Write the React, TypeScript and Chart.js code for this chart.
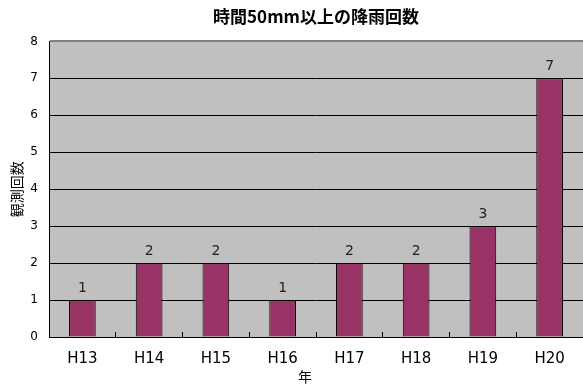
import React, { useEffect, useRef } from "react";
import { Chart, registerables } from "chart.js";

Chart.register(...registerables);

const years = ["H13", "H14", "H15", "H16", "H17", "H18", "H19", "H20"];
const counts = [1, 2, 2, 1, 2, 2, 3, 7];
const yMin = 0;
const yMax = 8;
const yStep = 1;

const chartTitle = "時間50mm以上の降雨回数";
const yTitle = "観測回数";
const xTitle = "年";

const cjkFont = "'Noto Sans CJK JP', sans-serif";
const latinFont = "'DejaVu Sans', sans-serif";

// grey plot background
const plotBackground = {
  id: "plotBackground",
  beforeDraw(chart: any) {
    const { ctx, chartArea } = chart;
    ctx.save();
    ctx.fillStyle = "#C0C0C0";
    ctx.fillRect(chartArea.left, chartArea.top, chartArea.right - chartArea.left, chartArea.bottom - chartArea.top);
    ctx.restore();
  },
};

// value labels above each bar, plus the x axis title
const annotations = {
  id: "annotations",
  afterDatasetsDraw(chart: any) {
    const { ctx } = chart;
    const meta = chart.getDatasetMeta(0);
    ctx.save();
    ctx.font = `14px ${latinFont}`;
    ctx.fillStyle = "#222";
    ctx.textAlign = "center";
    ctx.textBaseline = "bottom";
    meta.data.forEach((bar: any, i: number) => {
      ctx.fillText(String(counts[i]), bar.x, bar.y - 5);
    });
    ctx.font = `14px ${cjkFont}`;
    ctx.fillStyle = "#000";
    ctx.textBaseline = "middle";
    ctx.fillText(xTitle, 305, 377);
    ctx.restore();
  },
};

export default function App() {
  const ref = useRef<HTMLCanvasElement>(null);

  useEffect(() => {
    if (!ref.current) return;
    const chart = new Chart(ref.current, {
      type: "bar",
      data: {
        labels: years,
        datasets: [
          {
            data: counts,
            backgroundColor: "#993366",
            borderColor: "#000000",
            borderWidth: 1,
            categoryPercentage: 1,
            barPercentage: 0.4,
          },
        ],
      },
      options: {
        responsive: false,
        animation: false,
        layout: { padding: 0 },
        plugins: {
          legend: { display: false },
          tooltip: { enabled: false },
          title: {
            display: true,
            text: chartTitle,
            fullSize: false,
            color: "#000",
            font: { family: cjkFont, size: 17, weight: "bold" },
            padding: { top: 6, bottom: 15 },
          },
        },
        scales: {
          x: {
            afterFit: (s: any) => {
              s.height = 48;
            },
            grid: {
              display: true,
              drawOnChartArea: false,
              drawTicks: true,
              tickLength: -5,
              color: "#000",
              offset: true,
            },
            border: { display: true, color: "#000", width: 1 },
            ticks: {
              color: "#000",
              font: { family: latinFont, size: 15 },
              padding: 18,
              maxRotation: 0,
            },
          },
          y: {
            min: yMin,
            max: yMax,
            afterFit: (s: any) => {
              s.width = 49;
            },
            grid: {
              drawTicks: false,
              color: (c: any) => (c.tick && c.tick.value === yMax ? "#808080" : "#000"),
              lineWidth: (c: any) => (c.tick && c.tick.value === yMax ? 2 : 1),
            },
            border: { display: true, color: "#000", width: 1 },
            ticks: {
              stepSize: yStep,
              color: "#000",
              font: { family: latinFont, size: 12 },
              padding: 11,
            },
            title: {
              display: true,
              text: yTitle,
              color: "#000",
              font: { family: cjkFont, size: 14 },
              padding: { top: 8, bottom: 0 },
            },
          },
        },
      },
      plugins: [plotBackground, annotations],
    });
    return () => chart.destroy();
  }, []);

  return (
    <div style={{ position: "fixed", left: 0, top: 0, width: 583, height: 385, background: "#fff" }}>
      <canvas ref={ref} width={583} height={385} />
    </div>
  );
}
